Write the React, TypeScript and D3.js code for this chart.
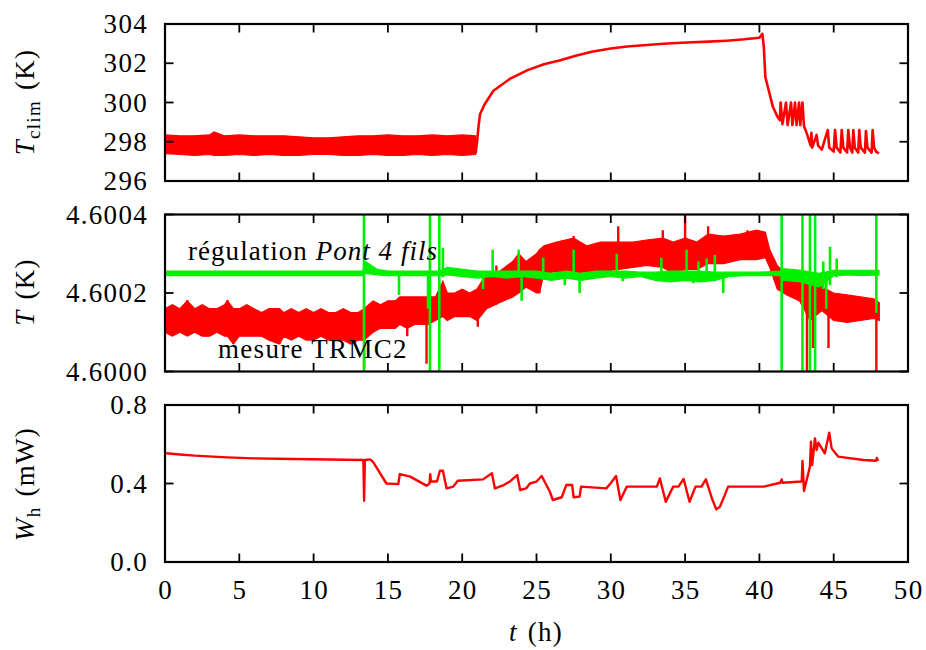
import React from "react";
import * as d3 from "d3";

// ---------- ticks ----------
const xTicks = [0, 5, 10, 15, 20, 25, 30, 35, 40, 45, 50];
const tclimTicks = [296, 298, 300, 302, 304];
const tempTicks = [4.6, 4.6002, 4.6004];
const whTicks = [0, 0.4, 0.8];

// ---------- panel 1 : T_clim (K) ----------
// oscillating regulation band (envelope), 0 – 21 h
const tclimBandT = [0, 1, 2, 3, 3.3, 4, 5, 6, 7, 8, 9, 10, 11, 12, 13, 14, 15, 16, 17, 18, 19, 20, 20.9];
const tclimBandHi = [298.35, 298.3, 298.3, 298.35, 298.5, 298.3, 298.35, 298.3, 298.3, 298.3, 298.25, 298.2, 298.2, 298.25, 298.3, 298.3, 298.35, 298.3, 298.3, 298.35, 298.3, 298.35, 298.3];
const tclimBandLo = [297.4, 297.35, 297.3, 297.35, 297.3, 297.3, 297.35, 297.3, 297.35, 297.3, 297.3, 297.35, 297.35, 297.3, 297.3, 297.35, 297.3, 297.3, 297.35, 297.3, 297.35, 297.3, 297.35];
// trace after 21 h
const tclimLineT = [20.9, 21.0, 21.1, 21.2, 21.5, 22.1, 23.2, 24.4, 25.5, 26.6, 27.7, 28.8, 30.0, 31.1, 32.2, 33.3, 34.4, 35.5, 36.6, 37.8, 39.0, 40.0, 40.2, 40.3, 40.4, 40.6, 40.9, 41.2, 41.38,
  41.43, 41.55, 41.79, 41.9, 42.13, 42.22, 42.4, 42.5, 42.67, 42.75, 42.9, 43.0, 43.2, 43.45, 43.5, 43.55, 43.85, 43.95, 44.2, 44.6, 44.7, 45.0,
  45.09, 45.2, 45.45, 45.54, 45.65, 45.9, 45.98, 46.1, 46.25, 46.32, 46.42, 46.65, 46.72, 46.82, 47.1, 47.17, 47.27, 47.55, 47.62, 47.72, 47.85, 48.05];
const tclimLineV = [297.4, 298.0, 298.8, 299.4, 299.9, 300.6, 301.2, 301.65, 301.95, 302.15, 302.4, 302.6, 302.75, 302.85, 302.92, 302.98, 303.03, 303.07, 303.1, 303.15, 303.22, 303.3, 303.5, 302.8, 301.3, 300.7, 299.8, 299.3, 299.1,
  300.0, 298.9, 300.0, 298.85, 300.0, 298.85, 300.0, 298.85, 300.0, 298.85, 300.0, 298.8, 298.4, 297.8, 298.45, 297.7, 298.35, 297.8, 297.6, 298.6, 297.7, 297.5,
  298.6, 297.7, 297.45, 298.6, 297.7, 297.45, 298.6, 297.7, 297.45, 298.6, 297.7, 297.45, 298.6, 297.7, 297.45, 298.55, 297.7, 297.45, 298.6, 297.7, 297.5, 297.4];

// ---------- panel 2 : T (K) ----------
// "mesure TRMC2" (red) envelope
const trmcT = [0, 0.5, 1.0, 1.5, 2.0, 2.5, 3.0, 3.5, 4.0, 4.2, 4.6, 5.0, 5.5, 6.0, 6.5, 7.0, 7.7, 8.0, 8.5, 9.0, 9.5, 10.0, 10.5, 11.0, 11.5, 12.0, 12.5, 13.0, 13.4,
  14.0, 14.5, 15.0, 15.5, 15.8, 16.3, 16.8, 17.3, 17.7, 18.2, 18.7, 19.0, 19.5, 20.0, 20.5, 21.0, 21.65, 22.5, 23.4, 23.8, 24.3, 25.0, 25.2, 25.5, 26.35, 27.5, 28.4, 29.3,
  30.5, 31.5, 32.4, 33.5, 34.2, 35.0, 35.8, 36.55, 37.6, 38.7, 39.8, 40.4, 40.7, 41.2, 41.85, 42.7, 43.0, 43.4, 44.2, 45.0, 45.9, 46.8, 47.7, 48.07];
const trmcHi = [4.60016, 4.60017, 4.60016, 4.60018, 4.60016, 4.60017, 4.60016, 4.60016, 4.60017, 4.60018, 4.60016, 4.60016, 4.60017, 4.60016, 4.60015, 4.60016, 4.60016, 4.60015, 4.60016, 4.60015, 4.60016, 4.60015, 4.60016, 4.60015, 4.60015, 4.60016, 4.60015, 4.60015, 4.60016,
  4.60018, 4.60017, 4.60018, 4.60018, 4.60019, 4.60019, 4.60019, 4.60019, 4.60019, 4.60019, 4.60023, 4.6002, 4.6002, 4.60021, 4.6002, 4.60021, 4.60025, 4.600255, 4.60028, 4.6003, 4.60028, 4.6003, 4.60031, 4.60032, 4.60033, 4.60034, 4.60032, 4.60033,
  4.60033, 4.60033, 4.600335, 4.60034, 4.60033, 4.60034, 4.60033, 4.60035, 4.600345, 4.60035, 4.60036, 4.600355, 4.60031, 4.60027, 4.600245, 4.600235, 4.60024, 4.600235, 4.600215, 4.6002, 4.600195, 4.60019, 4.600185, 4.600175];
const trmcLo = [4.6001, 4.60009, 4.6001, 4.60009, 4.6001, 4.60009, 4.60009, 4.6001, 4.60009, 4.60009, 4.60007, 4.60009, 4.60009, 4.60009, 4.60009, 4.60008, 4.60007, 4.60009, 4.60008, 4.60009, 4.60008, 4.60008, 4.60009, 4.60008, 4.60008, 4.60008, 4.60007, 4.60008, 4.60008,
  4.6001, 4.60011, 4.60011, 4.60011, 4.60012, 4.60011, 4.60012, 4.60012, 4.60012, 4.60013, 4.60014, 4.60013, 4.60014, 4.60014, 4.60014, 4.60013, 4.60016, 4.600175, 4.60019, 4.6002, 4.600215, 4.6002, 4.6002, 4.60025, 4.600255, 4.60025, 4.600255, 4.600255,
  4.60026, 4.600265, 4.60027, 4.600265, 4.60025, 4.60026, 4.60026, 4.600275, 4.600275, 4.600285, 4.600285, 4.60029, 4.600265, 4.60021, 4.600195, 4.60018, 4.60016, 4.60013, 4.600155, 4.60013, 4.600125, 4.60013, 4.600135, 4.60013];
// isolated excursions of the red trace
const trmcSpikeT = [1.5, 4.2, 4.6, 7.7, 13.4, 16.3, 17.6, 21.05, 22.3, 25.2, 27.5, 30.5, 33.5, 35.0, 36.55, 39.2, 43.2, 43.6, 44.65, 47.87];
const trmcSpikeLo = [4.6001, 4.6001, 4.60007, 4.60007, 4.60001, 4.60009, 4.60002, 4.600114, 4.60017, 4.6002, 4.60025, 4.60026, 4.60027, 4.60026, 4.60028, 4.60029, 4.6, 4.60006, 4.60006, 4.5999];
const trmcSpikeHi = [4.600182, 4.600182, 4.60016, 4.60016, 4.60012, 4.60013, 4.60013, 4.60015, 4.60027, 4.60031, 4.600345, 4.60037, 4.60036, 4.6004, 4.60037, 4.60036, 4.6002, 4.6002, 4.60018, 4.60018];

// "régulation Pont 4 fils" (green) envelope
const pontT = [0, 13.3, 13.5, 14.3, 15, 18.5, 19, 21, 22, 23, 24, 25, 26, 27, 28, 29, 30, 31, 32, 33, 34, 35, 36, 37, 38, 39, 40, 41.4, 41.6, 42.8, 44.0, 45.0, 46, 47, 48.05];
const pontHi = [4.600256, 4.600256, 4.60028, 4.60026, 4.600256, 4.600256, 4.600265, 4.600256, 4.600256, 4.600256, 4.600256, 4.600256, 4.60025, 4.600256, 4.60025, 4.600256, 4.600256, 4.600256, 4.600253, 4.600253, 4.600256, 4.600256, 4.600256, 4.600253, 4.600253, 4.600253, 4.600253, 4.600256, 4.600262, 4.600258, 4.60025, 4.600258, 4.600258, 4.600258, 4.600258];
const pontLo = [4.600244, 4.600244, 4.60025, 4.600246, 4.600244, 4.600244, 4.600246, 4.600238, 4.600242, 4.600238, 4.600242, 4.600238, 4.600232, 4.600238, 4.600232, 4.600238, 4.600242, 4.600238, 4.600242, 4.600232, 4.600228, 4.600232, 4.600228, 4.600232, 4.600242, 4.600244, 4.600244, 4.600244, 4.600232, 4.600228, 4.600215, 4.600244, 4.600246, 4.600244, 4.600246];
// excursions of the green trace
const pontSpikeT = [13.39, 15.75, 17.7, 17.83, 18.46, 18.7, 21.4, 22.05, 23.8, 24.0, 25.45, 26.9, 27.5, 27.9, 30.4, 30.8, 33.4, 35.1, 35.55, 35.9, 36.45, 37.0, 37.57, 41.5, 42.9, 43.4, 43.75, 44.3, 44.5, 44.75, 45.2, 47.87];
const pontSpikeLo = [4.5999, 4.600195, 4.60016, 4.5999, 4.5999, 4.60024, 4.60021, 4.60024, 4.60024, 4.60018, 4.60024, 4.60022, 4.60024, 4.6002, 4.60024, 4.60023, 4.60023, 4.60023, 4.600225, 4.60023, 4.60023, 4.60023, 4.6002, 4.5999, 4.5999, 4.5999, 4.5999, 4.60021, 4.60016, 4.60022, 4.60024, 4.60015];
const pontSpikeHi = [4.6005, 4.60025, 4.60025, 4.6005, 4.6005, 4.600315, 4.60025, 4.60031, 4.60031, 4.60025, 4.60029, 4.60025, 4.60031, 4.60025, 4.6003, 4.60025, 4.60029, 4.60031, 4.60025, 4.60028, 4.600288, 4.600297, 4.60025, 4.6005, 4.6005, 4.6005, 4.6005, 4.60028, 4.60025, 4.600318, 4.600288, 4.6005];

// ---------- panel 3 : W_h (mW) ----------
const whT = [0.07, 1, 2, 4.15, 6, 8.6, 11, 13.35, 13.4, 13.45, 13.8, 14.0, 14.9, 15.7, 15.8, 16.5, 17.6, 17.8, 17.85, 17.9, 18.3, 18.5, 18.7, 18.95, 19.4, 19.7, 21.4, 22.0, 22.2, 22.8, 23.2, 23.7, 23.9, 24.3, 24.56, 25.0, 25.35, 25.9, 26.1, 26.7, 27.0, 27.4, 27.5, 27.9, 28.0,
  29.7, 29.95, 30.35, 30.65, 31.07, 33.1, 33.3, 33.7, 34.2, 34.55, 34.9, 35.3, 35.7, 36.1, 36.4, 36.8, 37.1, 37.35, 37.9, 40.3, 41.4, 41.5, 41.55, 42.85, 42.9, 43.0, 43.4, 43.47, 43.55, 43.74, 43.85, 43.97, 44.4, 44.7, 44.86, 45.3, 47.0, 47.85, 47.9, 48.0];
const whV = [0.554, 0.548, 0.542, 0.533, 0.528, 0.525, 0.522, 0.52, 0.312, 0.52, 0.523, 0.51, 0.4, 0.397, 0.448, 0.435, 0.389, 0.4, 0.448, 0.41, 0.41, 0.465, 0.465, 0.375, 0.384, 0.414, 0.421, 0.452, 0.375, 0.392, 0.41, 0.443, 0.367, 0.375, 0.4, 0.41, 0.438, 0.358, 0.316, 0.33, 0.392, 0.392, 0.33, 0.333, 0.384,
  0.375, 0.397, 0.438, 0.316, 0.384, 0.384, 0.426, 0.307, 0.384, 0.384, 0.423, 0.307, 0.384, 0.384, 0.421, 0.325, 0.268, 0.282, 0.384, 0.384, 0.404, 0.421, 0.404, 0.41, 0.515, 0.362, 0.486, 0.613, 0.494, 0.63, 0.571, 0.608, 0.554, 0.659, 0.579, 0.537, 0.52, 0.516, 0.53, 0.516];

const RED = "#ff0000";
const GREEN = "#00f000";
const FONT = "'Liberation Serif', 'Times New Roman', serif";
const FS = 27;
const LS = 1.3;

const LEFT = 165;
const RIGHT = 908;
const x = d3.scaleLinear().domain([0, 50]).range([LEFT, RIGHT]);

type PanelProps = {
  id: string;
  top: number;
  bottom: number;
  y: d3.ScaleLinear<number, number>;
  yTicks: number[];
  fmt: (v: number) => string;
  showX: boolean;
  children: React.ReactNode;
};

function Panel({ id, top, bottom, y, yTicks, fmt, showX, children }: PanelProps) {
  const tl = 8.5;
  return (
    <g>
      <defs>
        <clipPath id={id}>
          <rect x={LEFT} y={top} width={RIGHT - LEFT} height={bottom - top} />
        </clipPath>
      </defs>
      <g clipPath={`url(#${id})`}>{children}</g>
      {xTicks.map((t) => (
        <g key={"x" + t}>
          <line x1={x(t)} x2={x(t)} y1={top} y2={top + tl} stroke="#000" strokeWidth={1.8} />
          <line x1={x(t)} x2={x(t)} y1={bottom} y2={bottom - tl} stroke="#000" strokeWidth={1.8} />
          {showX && (
            <text x={x(t) + LS / 2} y={bottom + 37} textAnchor="middle" fontFamily={FONT} fontSize={FS} letterSpacing={LS}>
              {t}
            </text>
          )}
        </g>
      ))}
      {yTicks.map((v) => (
        <g key={"y" + v}>
          <line x1={LEFT} x2={LEFT + tl} y1={y(v)} y2={y(v)} stroke="#000" strokeWidth={1.8} />
          <line x1={RIGHT} x2={RIGHT - tl} y1={y(v)} y2={y(v)} stroke="#000" strokeWidth={1.8} />
          <text x={148} y={y(v) + 9} textAnchor="end" fontFamily={FONT} fontSize={FS} letterSpacing={LS}>
            {fmt(v)}
          </text>
        </g>
      ))}
      <rect x={LEFT} y={top} width={RIGHT - LEFT} height={bottom - top} fill="none" stroke="#000" strokeWidth={2.2} />
    </g>
  );
}

function envelope(T: number[], lo: number[], hi: number[], y: d3.ScaleLinear<number, number>) {
  const idx = d3.range(T.length);
  return (
    d3
      .area<number>()
      .x((i) => x(T[i]))
      .y0((i) => y(lo[i]))
      .y1((i) => y(hi[i]))(idx) || ""
  );
}

function trace(T: number[], V: number[], y: d3.ScaleLinear<number, number>) {
  const idx = d3.range(T.length);
  return (
    d3
      .line<number>()
      .x((i) => x(T[i]))
      .y((i) => y(V[i]))(idx) || ""
  );
}

export default function App() {
  const y1 = d3.scaleLinear().domain([296, 304]).range([181, 24]);
  const y2 = d3.scaleLinear().domain([4.6, 4.6004]).range([371.5, 214.5]);
  const y3 = d3.scaleLinear().domain([0, 0.8]).range([562, 405]);

  return (
    <svg width={926} height={650} style={{ position: "absolute", left: 0, top: 0, background: "#fff" }}>
      <rect width={926} height={650} fill="#fff" />
      {/* panel 1 */}
      <Panel id="c1" top={24} bottom={181} y={y1} yTicks={tclimTicks} fmt={(v) => d3.format("d")(v)} showX={false}>
        <path d={envelope(tclimBandT, tclimBandLo, tclimBandHi, y1)} fill={RED} stroke={RED} strokeWidth={1.2} />
        <path d={trace(tclimLineT, tclimLineV, y1)} fill="none" stroke={RED} strokeWidth={2.6} strokeLinejoin="round" />
      </Panel>
      {/* panel 2 */}
      <Panel id="c2" top={214.5} bottom={371.5} y={y2} yTicks={tempTicks} fmt={(v) => d3.format(".4f")(v)} showX={false}>
        <path d={envelope(trmcT, trmcLo, trmcHi, y2)} fill={RED} stroke={RED} strokeWidth={1.2} />
        {trmcSpikeT.map((t, i) => (
          <line key={"rs" + i} x1={x(t)} x2={x(t)} y1={y2(trmcSpikeLo[i])} y2={y2(trmcSpikeHi[i])} stroke={RED} strokeWidth={2.4} />
        ))}
        <path d={envelope(pontT, pontLo, pontHi, y2)} fill={GREEN} stroke={GREEN} strokeWidth={1.2} />
        {pontSpikeT.map((t, i) => (
          <line key={"gs" + i} x1={x(t)} x2={x(t)} y1={y2(pontSpikeLo[i])} y2={y2(pontSpikeHi[i])} stroke={GREEN} strokeWidth={2.6} />
        ))}
      </Panel>
      <text x={188} y={260} fontFamily={FONT} fontSize={FS} letterSpacing={LS * 0.8}>
        régulation <tspan fontStyle="italic">Pont 4 fils</tspan>
      </text>
      <text x={218} y={358} fontFamily={FONT} fontSize={FS} letterSpacing={LS}>
        mesure TRMC2
      </text>
      {/* panel 3 */}
      <Panel id="c3" top={405} bottom={562} y={y3} yTicks={whTicks} fmt={(v) => d3.format(".1f")(v)} showX={true}>
        <path d={trace(whT, whV, y3)} fill="none" stroke={RED} strokeWidth={2.4} strokeLinejoin="round" />
      </Panel>

      {/* axis titles */}
      <text transform="translate(34,102) rotate(-90)" textAnchor="middle" fontFamily={FONT} fontSize={FS} letterSpacing={LS}>
        <tspan fontStyle="italic">T</tspan>
        <tspan fontSize={19} dy={6}>clim</tspan>
        <tspan dy={-6} dx={10}>(K)</tspan>
      </text>
      <text transform="translate(34,292) rotate(-90)" textAnchor="middle" fontFamily={FONT} fontSize={FS} letterSpacing={LS}>
        <tspan fontStyle="italic">T</tspan>
        <tspan dx={10}>(K)</tspan>
      </text>
      <text transform="translate(34,484) rotate(-90)" textAnchor="middle" fontFamily={FONT} fontSize={FS} letterSpacing={LS}>
        <tspan fontStyle="italic">W</tspan>
        <tspan fontSize={19} dy={6}>h</tspan>
        <tspan dy={-6} dx={10}>(mW)</tspan>
      </text>
      <text x={536} y={641} textAnchor="middle" fontFamily={FONT} fontSize={FS} letterSpacing={LS}>
        <tspan fontStyle="italic">t</tspan>
        <tspan dx={10}>(h)</tspan>
      </text>
    </svg>
  );
}
